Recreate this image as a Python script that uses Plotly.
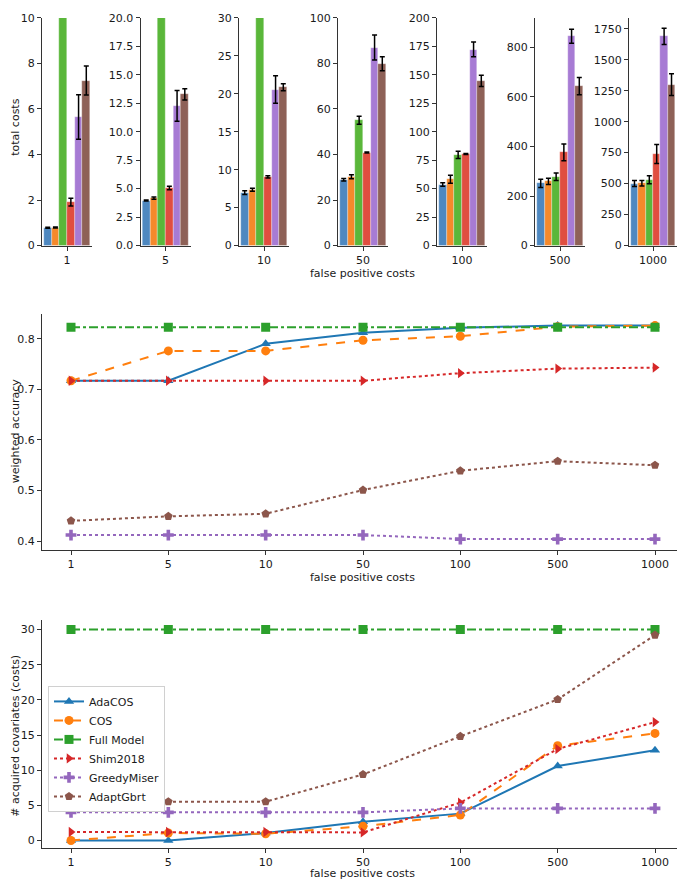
import plotly.graph_objects as go

# valores
fp_labels = ['1', '5', '10', '50', '100', '500', '1000']
methods = ['AdaCOS', 'COS', 'Full Model', 'Shim2018', 'GreedyMiser', 'AdaptGbrt']

# custos totais (barras) e desvios
adacos_cost = [0.78, 3.96, 6.96, 28.9, 53.6, 251, 500]
adacos_cost_err = [0.02, 0.05, 0.25, 0.6, 1.5, 17, 24]
cos_cost = [0.79, 4.16, 7.34, 30.2, 58.2, 259, 503]
cos_cost_err = [0.02, 0.1, 0.2, 0.9, 3.5, 13, 22]
full_cost = [30.5, 32.5, 35, 55, 79.6, 278, 531]
full_cost_err = [1, 1, 1, 1.75, 3.2, 15, 33]
shim_cost = [1.91, 5.05, 9.05, 40.9, 80.4, 376, 739]
shim_cost_err = [0.17, 0.15, 0.15, 0.2, 0.5, 34, 76]
greedy_cost = [5.65, 12.28, 20.57, 87.0, 172.3, 845, 1688]
greedy_cost_err = [0.98, 1.35, 1.8, 5.5, 6.5, 28, 65]
adapt_cost = [7.25, 13.28, 20.86, 79.9, 144.7, 644, 1298]
adapt_cost_err = [0.64, 0.5, 0.45, 3.1, 5, 35, 88]

# acuracia ponderada
adacos_acc = [0.717, 0.717, 0.790, 0.812, 0.822, 0.826, 0.826]
cos_acc = [0.717, 0.776, 0.776, 0.797, 0.805, 0.824, 0.826]
full_acc = [0.823, 0.823, 0.823, 0.823, 0.823, 0.823, 0.823]
shim_acc = [0.717, 0.717, 0.717, 0.717, 0.732, 0.741, 0.743]
greedy_acc = [0.412, 0.412, 0.412, 0.412, 0.404, 0.404, 0.404]
adapt_acc = [0.440, 0.449, 0.454, 0.501, 0.539, 0.558, 0.550]

# covariaveis adquiridas
adacos_cov = [0.0, 0.0, 1.06, 2.67, 3.82, 10.59, 12.84]
cos_cov = [0.0, 1.06, 0.95, 2.02, 3.63, 13.48, 15.23]
full_cov = [30, 30, 30, 30, 30, 30, 30]
shim_cov = [1.2, 1.2, 1.2, 1.15, 5.38, 13.02, 16.84]
greedy_cov = [4.0, 4.0, 4.0, 4.0, 4.56, 4.56, 4.56]
adapt_cov = [5.66, 5.52, 5.52, 9.39, 14.82, 20.06, 29.22]

costs = [adacos_cost, cos_cost, full_cost, shim_cost, greedy_cost, adapt_cost]
costs_err = [adacos_cost_err, cos_cost_err, full_cost_err, shim_cost_err,
             greedy_cost_err, adapt_cost_err]
accs = [adacos_acc, cos_acc, full_acc, shim_acc, greedy_acc, adapt_acc]
covs = [adacos_cov, cos_cov, full_cov, shim_cov, greedy_cov, adapt_cov]

line_colors = ['#1f77b4', '#ff7f0e', '#2ca02c', '#d62728', '#9467bd', '#8c564b']
bar_colors = ['#4e88c0', '#f5892b', '#5ab73a', '#e04e40', '#a77bd4', '#8e6157']
symbols = ['triangle-up', 'circle', 'square', 'triangle-right', 'cross', 'pentagon']
dashes = ['solid', 'dash', 'dashdot', 'dot', 'dot', 'dot']

# o body da pagina tem margem de 8px: figura de 669x880 comecando em (8, 8)
OFF = 8
W, H = 685 - 2 * OFF, 896 - 2 * OFF
def px_x(p):
    return (p - OFF) / W
def px_y(p):
    return 1 - (p - OFF) / H

font = dict(family='DejaVu Sans', size=11, color='#1a1a1a')
axis_style = dict(showline=True, linecolor='#333', linewidth=1, ticks='outside',
                  ticklen=4, tickcolor='#333', showgrid=False, zeroline=False,
                  tickfont=font, ticklabeloverflow='allow')

fig = go.Figure()

# painel superior: barras
bar_left = [42, 140.5, 239, 338, 437, 535, 629]
bar_ranges = [10, 20, 30, 100, 200, 919, 1837]
bar_dticks = [2, 2.5, 5, 20, 25, 200, 250]
for i, fp in enumerate(fp_labels):
    ax = '' if i == 0 else str(i + 1)
    for j, m in enumerate(methods):
        fig.add_trace(go.Bar(
            x=[fp], y=[costs[j][i]],
            error_y=dict(type='data', array=[costs_err[j][i]], color='black',
                         thickness=1.5, width=2.5),
            marker=dict(color=bar_colors[j], line=dict(color='rgba(255,255,255,0.6)', width=0.5)),
            name=m, showlegend=False, xaxis='x' + ax, yaxis='y' + ax,
        ))
    wid = 48 if i == 6 else 50
    fig.layout['xaxis' + ax] = dict(
        axis_style, domain=[px_x(bar_left[i]), px_x(bar_left[i] + wid)],
        range=[-0.54, 0.54], anchor='y' + ax, type='category')
    fig.layout['yaxis' + ax] = dict(
        axis_style, domain=[px_y(243), px_y(12)], range=[0, bar_ranges[i]],
        dtick=bar_dticks[i], tick0=0, anchor='x' + ax,
        tickformat='.1f' if i == 1 else None)

# painel do meio: acuracia
for j, m in enumerate(methods):
    fig.add_trace(go.Scatter(
        x=fp_labels, y=accs[j], mode='lines+markers', name=m, showlegend=False,
        line=dict(color=line_colors[j], dash=dashes[j], width=2),
        marker=dict(symbol=symbols[j], size=9, color=line_colors[j]),
        xaxis='x8', yaxis='y8'))

# painel inferior: covariaveis
for j, m in enumerate(methods):
    fig.add_trace(go.Scatter(
        x=fp_labels, y=covs[j], mode='lines+markers', name=m,
        line=dict(color=line_colors[j], dash=dashes[j], width=2),
        marker=dict(symbol=symbols[j], size=9, color=line_colors[j]),
        xaxis='x9', yaxis='y9'))

# categorias em 71 .. 655 px
unit = (655 - 71) / 6
xr = [-(71 - 42) / unit, 6 + (677 - 655) / unit]
fig.update_layout(
    xaxis8=dict(axis_style, domain=[px_x(42), px_x(677)], range=xr,
                anchor='y8', type='category'),
    yaxis8=dict(axis_style, domain=[px_y(552), px_y(313)], range=[0.3825, 0.848],
                dtick=0.1, tick0=0, anchor='x8'),
    xaxis9=dict(axis_style, domain=[px_x(42), px_x(677)], range=xr,
                anchor='y9', type='category'),
    yaxis9=dict(axis_style, domain=[px_y(854), px_y(623)], range=[-1.0, 31.38],
                dtick=5, tick0=0, anchor='x9'),
)

annots = [
    dict(text='total costs', x=0, y=px_y(123), textangle=-90, xanchor='left',
         yanchor='middle'),
    dict(text='weighted accuracy', x=0, y=px_y(432), textangle=-90, xanchor='left',
         yanchor='middle'),
    dict(text='# acquired covariates (costs)', x=0, y=px_y(741), textangle=-90,
         xanchor='left', yanchor='middle'),
    dict(text='false positive costs', x=px_x(362), y=px_y(271), xanchor='center',
         yanchor='middle'),
    dict(text='false positive costs', x=px_x(362), y=px_y(580), xanchor='center',
         yanchor='middle'),
    dict(text='false positive costs', x=px_x(362), y=0, xanchor='center',
         yanchor='bottom'),
]
for a in annots:
    fig.add_annotation(xref='paper', yref='paper', showarrow=False, font=font,
                       borderpad=0, **a)

fig.update_layout(
    width=W, height=H, margin=dict(l=0, r=0, t=0, b=0),
    paper_bgcolor='white', plot_bgcolor='white',
    barmode='group', bargap=0, bargroupgap=0,
    font=font,
    legend=dict(x=px_x(48), y=px_y(690), xanchor='left', yanchor='top',
                bgcolor='white', bordercolor='#d0d0d0', borderwidth=1,
                font=dict(family='DejaVu Sans', size=11, color='#1a1a1a'),
                tracegroupgap=0, itemwidth=30),
)

fig.write_html('out.html')
